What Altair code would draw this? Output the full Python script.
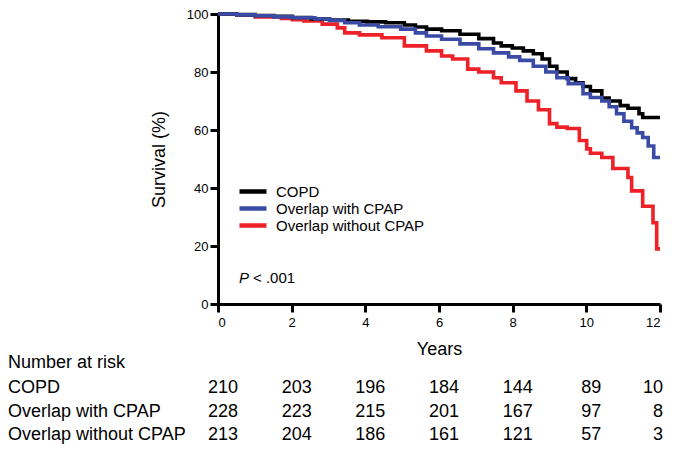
import altair as alt
import pandas as pd

groups = ["COPD", "Overlap with CPAP", "Overlap without CPAP"]
colors = ["#000000", "#3A4BA6", "#EE2028"]

copd_t = [0, 0.51, 1.01, 1.52, 2.02, 2.53, 3.03, 3.54, 4.05, 4.55, 5.06, 5.36, 5.66, 6.07, 6.57, 7.08, 7.48, 7.69, 7.99, 8.29, 8.56, 8.8, 9.0, 9.2, 9.48, 9.71, 9.91, 10.11, 10.42, 10.62, 10.92, 11.13, 11.43, 11.53, 12.0]
copd_s = [100, 99.8, 99.5, 99.2, 98.8, 98.3, 97.9, 97.5, 97.3, 97.0, 96.2, 95.5, 94.8, 94.2, 93.0, 91.5, 90.0, 89.0, 88.3, 87.3, 86.3, 84.5, 82.0, 80.0, 77.7, 76.3, 75.0, 73.5, 71.0, 70.0, 68.4, 67.5, 65.6, 64.3, 64.3]

cpap_t = [0, 0.51, 1.01, 1.52, 2.02, 2.63, 3.03, 3.44, 3.84, 4.35, 4.96, 5.36, 5.66, 6.07, 6.57, 7.08, 7.48, 7.89, 8.19, 8.56, 8.9, 9.2, 9.51, 9.91, 10.11, 10.42, 10.62, 10.82, 11.02, 11.23, 11.38, 11.53, 11.68, 11.83, 12.0]
cpap_s = [100, 99.7, 99.4, 99.0, 98.7, 98.3, 97.8, 97.0, 96.2, 95.6, 94.8, 93.5, 92.4, 91.3, 89.7, 88.0, 86.6, 85.2, 84.0, 82.0, 80.0, 78.0, 76.0, 72.5, 71.2, 70.0, 68.0, 65.6, 63.0, 60.8, 59.0, 57.4, 54.5, 50.5, 50.5]

nocpap_t = [0, 0.51, 1.01, 1.72, 2.02, 2.33, 2.83, 3.24, 3.44, 3.84, 4.45, 5.06, 5.66, 6.07, 6.37, 6.78, 7.08, 7.48, 7.69, 8.09, 8.39, 8.7, 9.0, 9.2, 9.48, 9.81, 10.01, 10.11, 10.42, 10.72, 11.13, 11.23, 11.53, 11.81, 11.91, 12.0]
nocpap_s = [100, 99.6, 99.0, 98.5, 98.0, 97.6, 96.5, 95.2, 93.5, 92.8, 91.8, 89.0, 87.3, 85.5, 84.5, 81.0, 80.0, 78.0, 76.3, 73.5, 70.0, 67.0, 62.2, 61.0, 60.5, 56.4, 53.5, 52.0, 50.5, 46.7, 43.6, 39.0, 33.7, 28.0, 19.0, 19.0]

risk_years = [0, 2, 4, 6, 8, 10, 12]
copd_risk = [210, 203, 196, 184, 144, 89, 10]
cpap_risk = [228, 223, 215, 201, 167, 97, 8]
nocpap_risk = [213, 204, 186, 161, 121, 57, 3]

table_labels = ["Number at risk", "COPD", "Overlap with CPAP", "Overlap without CPAP"]
row_y = [354, 379, 403, 426]

p_text_x = [0.57]
p_text_y = [9.0]

surv = pd.concat([
    pd.DataFrame({"group": g, "t": t, "s": s})
    for g, t, s in zip(groups, [copd_t, cpap_t, nocpap_t], [copd_s, cpap_s, nocpap_s])
])

FONT = "Liberation Sans"

x_enc = alt.X(
    "t:Q",
    scale=alt.Scale(domain=[0, 12], nice=False, zero=False),
    axis=alt.Axis(
        values=risk_years, title="Years", grid=False,
        domainColor="black", domainWidth=3, tickColor="black", tickWidth=3, tickSize=8,
        labelFontSize=13, labelColor="black", labelPadding=4, labelFont=FONT,
        titleFontSize=18, titleFontWeight="normal", titleColor="black", titleFont=FONT,
        titleBaseline="alphabetic", titleY=50,
    ),
)
y_enc = alt.Y(
    "s:Q",
    scale=alt.Scale(domain=[0, 100], nice=False),
    axis=alt.Axis(
        values=[0, 20, 40, 60, 80, 100], title="Survival (%)", grid=False,
        domainColor="black", domainWidth=3, tickColor="black", tickWidth=3, tickSize=8,
        labelFontSize=13, labelColor="black", labelPadding=2, labelFont=FONT,
        titleFontSize=18, titleFontWeight="normal", titleColor="black", titleFont=FONT,
        titleBaseline="alphabetic", titleX=-54,
    ),
)
color_enc = alt.Color(
    "group:N",
    scale=alt.Scale(domain=groups, range=colors),
    legend=alt.Legend(
        orient="none", legendX=27.5, legendY=170, title=None,
        symbolType="M-3,0H3", symbolSize=81, symbolStrokeWidth=4.5,
        labelFontSize=15, labelOffset=15.5, rowPadding=-2, padding=0,
        labelFont=FONT, labelColor="black", labelLimit=300,
    ),
)

layers = []
for g in ["Overlap without CPAP", "COPD", "Overlap with CPAP"]:
    layers.append(
        alt.Chart(surv)
        .transform_filter(alt.datum.group == g)
        .mark_line(interpolate="step-after", strokeWidth=3.6)
        .encode(x=x_enc, y=y_enc, color=color_enc)
    )

p_df = pd.DataFrame({"t": p_text_x, "s": p_text_y})
layers.append(
    alt.Chart(p_df).mark_text(text="P", fontStyle="italic", fontSize=15, align="left",
                              baseline="middle", font=FONT, color="black")
    .encode(x="t:Q", y="s:Q")
)
layers.append(
    alt.Chart(p_df).mark_text(text="< .001", fontSize=15, align="left", dx=14,
                              baseline="middle", font=FONT, color="black")
    .encode(x="t:Q", y="s:Q")
)

for lab, yy in zip(table_labels, row_y):
    layers.append(
        alt.Chart(pd.DataFrame({"label": [lab]}))
        .mark_text(fontSize=18, align="left", baseline="alphabetic", font=FONT, color="black")
        .encode(x=alt.value(-210), y=alt.value(yy), text="label:N")
    )

for vals, yy in zip([copd_risk, cpap_risk, nocpap_risk], row_y[1:]):
    df = pd.DataFrame({"t": risk_years, "n": vals})
    base = alt.Chart(df).encode(x=alt.X("t:Q"), y=alt.value(yy), text="n:Q")
    layers.append(
        base.transform_filter(alt.datum.t < 12)
        .mark_text(fontSize=18, align="center", dx=5, baseline="alphabetic", font=FONT, color="black")
    )
    layers.append(
        base.transform_filter(alt.datum.t >= 12)
        .mark_text(fontSize=18, align="right", dx=3, baseline="alphabetic", font=FONT, color="black")
    )

chart = (
    alt.layer(*layers)
    .properties(
        width=442, height=290,
        autosize=alt.AutoSizeParams(type="none"),
        padding={"left": 210, "top": 6, "right": 8, "bottom": 141},
    )
    .configure(font=FONT)
    .configure_view(stroke=None)
)

chart.save("out.html", embed_options={"renderer": "svg", "actions": False})
